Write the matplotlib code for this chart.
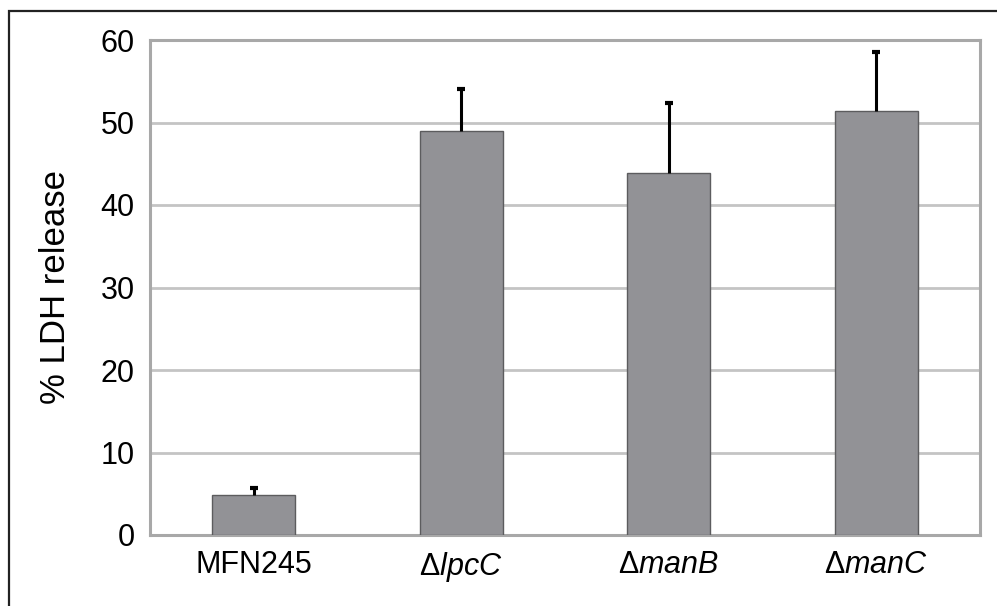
import matplotlib
matplotlib.use("Agg")
import matplotlib.pyplot as plt
from matplotlib.patches import Rectangle

plt.rcParams['font.family'] = ['Liberation Sans', 'DejaVu Sans']
plt.rcParams['mathtext.fontset'] = 'custom'
plt.rcParams['mathtext.rm'] = 'Liberation Sans'
plt.rcParams['mathtext.it'] = 'Liberation Sans:italic'

categories = ["MFN245", "Δ$\\mathit{lpcC}$", "Δ$\\mathit{manB}$", "Δ$\\mathit{manC}$"]
values = [4.8, 49.0, 43.9, 51.4]
errors = [0.85, 5.1, 8.5, 7.1]
yticks = [0, 10, 20, 30, 40, 50, 60]

fig = plt.figure(figsize=(9.97, 6.06), dpi=100)
W, H = 997, 606
ax = fig.add_axes([150 / W, (H - 535) / H, 830 / W, 495 / H])

x = list(range(len(categories)))
ax.bar(x, values, width=0.40, color='#929296', edgecolor='#5c5c5e', linewidth=1.0, zorder=3)
eb = ax.errorbar(x, values, yerr=[[0] * len(errors), errors], fmt='none', ecolor='black',
                 elinewidth=2.2, capsize=2.6, capthick=3, zorder=4)
eb[1][0].set_visible(False)

ax.set_xlim(-0.5, 3.5)
ax.set_ylim(0, 60)
ax.set_yticks(yticks)
ax.set_xticks(x)
ax.set_xticklabels(categories, fontsize=22)
ax.tick_params(axis='y', labelsize=22, length=0, pad=11)
ax.tick_params(axis='x', length=0, pad=11)
ax.yaxis.grid(True, color='#c4c4c4', linewidth=2, zorder=0)
ax.set_axisbelow(True)
for s in ax.spines.values():
    s.set_color('#a8a8a8')
    s.set_linewidth(2.2)
ax.set_ylabel('% LDH release', fontsize=25)
ax.yaxis.set_label_coords(-78 / 830, 0.5)

fig.patches.append(Rectangle((9 / W, -0.1), 1.2, (H - 11) / H + 0.1,
                             transform=fig.transFigure, fill=False,
                             edgecolor='#222222', linewidth=1.6))

fig.savefig('out.png', dpi=100)
